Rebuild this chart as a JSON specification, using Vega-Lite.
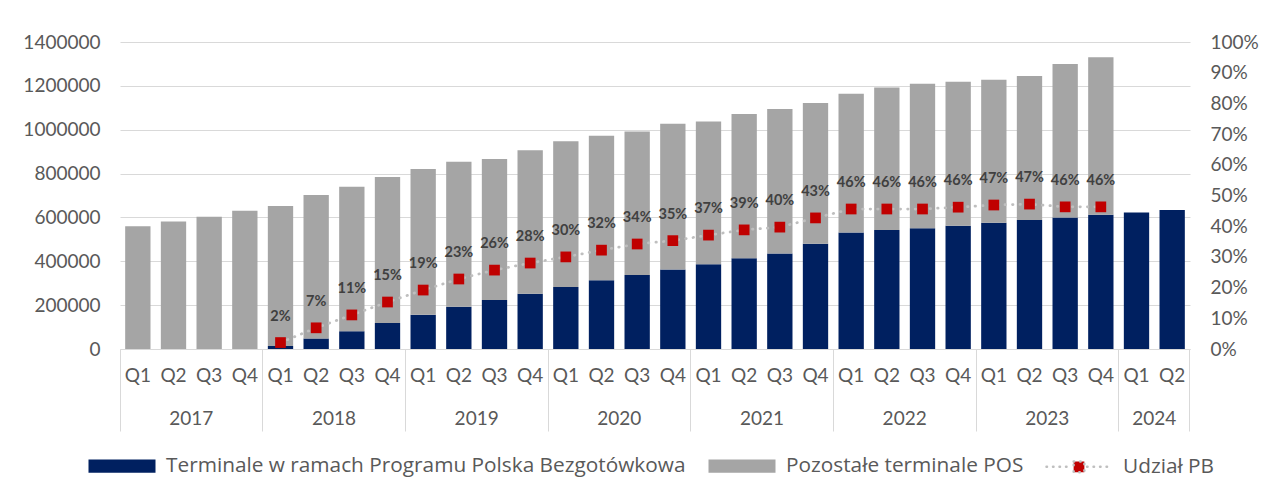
{
  "$schema": "https://vega.github.io/schema/vega-lite/v6.json",
  "autosize": {"type": "none"},
  "width": 1070,
  "height": 307,
  "padding": {"left": 120, "top": 42, "right": 82, "bottom": 152},
  "background": "#ffffff",
  "config": {
    "view": {"stroke": null},
    "font": "Lato",
    "axis": {"labelFont": "Lato", "labelColor": "#595959", "labelFontSize": 19}
  },
  "datasets": {
    "bars": [
      {"period": "2017 Q1", "series": "Pozostałe terminale POS", "value": 560000},
      {"period": "2017 Q2", "series": "Pozostałe terminale POS", "value": 582000},
      {"period": "2017 Q3", "series": "Pozostałe terminale POS", "value": 603000},
      {"period": "2017 Q4", "series": "Pozostałe terminale POS", "value": 630000},
      {"period": "2018 Q1", "series": "Terminale w ramach Programu Polska Bezgotówkowa", "value": 14000},
      {"period": "2018 Q1", "series": "Pozostałe terminale POS", "value": 638000},
      {"period": "2018 Q2", "series": "Terminale w ramach Programu Polska Bezgotówkowa", "value": 48000},
      {"period": "2018 Q2", "series": "Pozostałe terminale POS", "value": 654000},
      {"period": "2018 Q3", "series": "Terminale w ramach Programu Polska Bezgotówkowa", "value": 81000},
      {"period": "2018 Q3", "series": "Pozostałe terminale POS", "value": 659000},
      {"period": "2018 Q4", "series": "Terminale w ramach Programu Polska Bezgotówkowa", "value": 118000},
      {"period": "2018 Q4", "series": "Pozostałe terminale POS", "value": 666000},
      {"period": "2019 Q1", "series": "Terminale w ramach Programu Polska Bezgotówkowa", "value": 156000},
      {"period": "2019 Q1", "series": "Pozostałe terminale POS", "value": 665000},
      {"period": "2019 Q2", "series": "Terminale w ramach Programu Polska Bezgotówkowa", "value": 193000},
      {"period": "2019 Q2", "series": "Pozostałe terminale POS", "value": 661000},
      {"period": "2019 Q3", "series": "Terminale w ramach Programu Polska Bezgotówkowa", "value": 223000},
      {"period": "2019 Q3", "series": "Pozostałe terminale POS", "value": 643000},
      {"period": "2019 Q4", "series": "Terminale w ramach Programu Polska Bezgotówkowa", "value": 252000},
      {"period": "2019 Q4", "series": "Pozostałe terminale POS", "value": 654000},
      {"period": "2020 Q1", "series": "Terminale w ramach Programu Polska Bezgotówkowa", "value": 283000},
      {"period": "2020 Q1", "series": "Pozostałe terminale POS", "value": 664000},
      {"period": "2020 Q2", "series": "Terminale w ramach Programu Polska Bezgotówkowa", "value": 313000},
      {"period": "2020 Q2", "series": "Pozostałe terminale POS", "value": 660000},
      {"period": "2020 Q3", "series": "Terminale w ramach Programu Polska Bezgotówkowa", "value": 338000},
      {"period": "2020 Q3", "series": "Pozostałe terminale POS", "value": 654000},
      {"period": "2020 Q4", "series": "Terminale w ramach Programu Polska Bezgotówkowa", "value": 362000},
      {"period": "2020 Q4", "series": "Pozostałe terminale POS", "value": 665000},
      {"period": "2021 Q1", "series": "Terminale w ramach Programu Polska Bezgotówkowa", "value": 386000},
      {"period": "2021 Q1", "series": "Pozostałe terminale POS", "value": 652000},
      {"period": "2021 Q2", "series": "Terminale w ramach Programu Polska Bezgotówkowa", "value": 414000},
      {"period": "2021 Q2", "series": "Pozostałe terminale POS", "value": 658000},
      {"period": "2021 Q3", "series": "Terminale w ramach Programu Polska Bezgotówkowa", "value": 436000},
      {"period": "2021 Q3", "series": "Pozostałe terminale POS", "value": 658000},
      {"period": "2021 Q4", "series": "Terminale w ramach Programu Polska Bezgotówkowa", "value": 480000},
      {"period": "2021 Q4", "series": "Pozostałe terminale POS", "value": 642000},
      {"period": "2022 Q1", "series": "Terminale w ramach Programu Polska Bezgotówkowa", "value": 531000},
      {"period": "2022 Q1", "series": "Pozostałe terminale POS", "value": 633000},
      {"period": "2022 Q2", "series": "Terminale w ramach Programu Polska Bezgotówkowa", "value": 543000},
      {"period": "2022 Q2", "series": "Pozostałe terminale POS", "value": 650000},
      {"period": "2022 Q3", "series": "Terminale w ramach Programu Polska Bezgotówkowa", "value": 551000},
      {"period": "2022 Q3", "series": "Pozostałe terminale POS", "value": 659000},
      {"period": "2022 Q4", "series": "Terminale w ramach Programu Polska Bezgotówkowa", "value": 562000},
      {"period": "2022 Q4", "series": "Pozostałe terminale POS", "value": 657000},
      {"period": "2023 Q1", "series": "Terminale w ramach Programu Polska Bezgotówkowa", "value": 576000},
      {"period": "2023 Q1", "series": "Pozostałe terminale POS", "value": 652000},
      {"period": "2023 Q2", "series": "Terminale w ramach Programu Polska Bezgotówkowa", "value": 588000},
      {"period": "2023 Q2", "series": "Pozostałe terminale POS", "value": 657000},
      {"period": "2023 Q3", "series": "Terminale w ramach Programu Polska Bezgotówkowa", "value": 600000},
      {"period": "2023 Q3", "series": "Pozostałe terminale POS", "value": 700000},
      {"period": "2023 Q4", "series": "Terminale w ramach Programu Polska Bezgotówkowa", "value": 612000},
      {"period": "2023 Q4", "series": "Pozostałe terminale POS", "value": 718000},
      {"period": "2024 Q1", "series": "Terminale w ramach Programu Polska Bezgotówkowa", "value": 623000},
      {"period": "2024 Q2", "series": "Terminale w ramach Programu Polska Bezgotówkowa", "value": 634000}
    ],
    "shares": [
      {"period": "2018 Q1", "share": 0.021},
      {"period": "2018 Q2", "share": 0.069},
      {"period": "2018 Q3", "share": 0.111},
      {"period": "2018 Q4", "share": 0.153},
      {"period": "2019 Q1", "share": 0.192},
      {"period": "2019 Q2", "share": 0.228},
      {"period": "2019 Q3", "share": 0.257},
      {"period": "2019 Q4", "share": 0.280},
      {"period": "2020 Q1", "share": 0.300},
      {"period": "2020 Q2", "share": 0.322},
      {"period": "2020 Q3", "share": 0.342},
      {"period": "2020 Q4", "share": 0.353},
      {"period": "2021 Q1", "share": 0.371},
      {"period": "2021 Q2", "share": 0.388},
      {"period": "2021 Q3", "share": 0.397},
      {"period": "2021 Q4", "share": 0.427},
      {"period": "2022 Q1", "share": 0.456},
      {"period": "2022 Q2", "share": 0.456},
      {"period": "2022 Q3", "share": 0.456},
      {"period": "2022 Q4", "share": 0.462},
      {"period": "2023 Q1", "share": 0.469},
      {"period": "2023 Q2", "share": 0.472},
      {"period": "2023 Q3", "share": 0.463},
      {"period": "2023 Q4", "share": 0.463}
    ]
  },
  "layer": [
    {
      "data": {"name": "bars"},
      "mark": {"type": "bar"},
      "encoding": {
        "x": {
          "field": "period", "type": "nominal",
          "scale": {"type": "band", "paddingInner": 0.29, "paddingOuter": 0.145},
          "axis": {
            "title": null,
            "labelExpr": "substring(datum.value, 5)",
            "labelAngle": 0,
            "labelPadding": -65,
            "domainColor": "#D9D9D9",
            "domainWidth": 1,
            "tickColor": "#D9D9D9",
            "tickWidth": 1,
            "tickSize": 82,
            "bandPosition": -0.2042,
            "tickOpacity": {"condition": {"test": "substring(datum.value, 5) == 'Q1'", "value": 1}, "value": 0}
          }
        },
        "y": {
          "field": "value", "type": "quantitative", "stack": "zero",
          "scale": {"domain": [0, 1400000], "nice": false},
          "axis": {
            "title": null,
            "values": [0, 200000, 400000, 600000, 800000, 1000000, 1200000, 1400000],
            "format": "d",
            "domain": false,
            "ticks": false,
            "gridColor": "#D9D9D9",
            "gridWidth": 1,
            "labelPadding": 20
          }
        },
        "color": {
          "field": "series", "type": "nominal",
          "scale": {
            "domain": ["Terminale w ramach Programu Polska Bezgotówkowa", "Pozostałe terminale POS", "Udział PB"],
            "range": ["#002060", "#A5A5A5", "#C00000"]
          },
          "legend": {
            "orient": "none",
            "legendX": -33,
            "legendY": 389,
            "direction": "horizontal",
            "columns": 3,
            "title": null,
            "symbolSize": 4489,
            "labelFont": "Open Sans",
            "labelFontSize": 20.8,
            "labelColor": "#595959",
            "labelLimit": 1000,
            "labelOffset": 9,
            "columnPadding": 17,
            "encode": {
              "symbols": {
                "update": {
                  "shape": {"signal": "datum.value == 'Udział PB' ? 'M-0.97,0H-0.24M0.24,0H0.97M-0.16,-0.16H0.16V0.16H-0.16Z' : 'M-1,-0.2H1V0.2H-1Z'"},
                  "stroke": {"signal": "datum.value == 'Udział PB' ? '#BFBFBF' : 'transparent'"},
                  "strokeWidth": {"value": 2.5},
                  "strokeDash": {"signal": "datum.value == 'Udział PB' ? [0.5, 6] : [1, 0]"},
                  "strokeCap": {"value": "round"},
                  "opacity": {"value": 1}
                }
              }
            }
          }
        },
        "order": {"field": "series", "sort": "descending"}
      }
    },
    {
      "data": {"name": "shares"},
      "encoding": {
        "x": {
          "field": "period", "type": "nominal",
          "axis": {
            "orient": "bottom",
            "title": null,
            "labelExpr": "((substring(datum.value, 5) == 'Q2' && substring(datum.value, 0, 4) != '2024') || datum.value == '2024 Q1') ? substring(datum.value, 0, 4) : ''",
            "labelAngle": 0,
            "labelOffset": 17.83,
            "labelPadding": -22,
            "domain": false,
            "grid": false,
            "tickColor": "#D9D9D9",
            "tickWidth": 1,
            "tickSize": 82,
            "bandPosition": 1.2042,
            "tickOpacity": {"condition": {"test": "datum.value == '2024 Q2'", "value": 1}, "value": 0}
          }
        },
        "y": {
          "field": "share", "type": "quantitative",
          "scale": {"domain": [0, 1], "nice": false},
          "axis": {
            "orient": "right",
            "title": null,
            "values": [0, 0.1, 0.2, 0.3, 0.4, 0.5, 0.6, 0.7, 0.8, 0.9, 1],
            "format": ".0%",
            "domain": false,
            "ticks": false,
            "grid": false,
            "labelPadding": 20
          }
        }
      },
      "layer": [
        {
          "mark": {"type": "line", "color": "#BFBFBF", "strokeWidth": 2.75, "strokeDash": [0.5, 7], "strokeCap": "round"}
        },
        {
          "mark": {"type": "point", "shape": "square", "filled": true, "size": 115, "opacity": 1},
          "encoding": {"color": {"datum": "Udział PB"}}
        },
        {
          "mark": {"type": "text", "dy": -26, "font": "Lato", "fontSize": 14.5, "fontWeight": "bold", "color": "#404040"},
          "encoding": {"text": {"field": "share", "type": "quantitative", "format": ".0%"}}
        }
      ]
    }
  ],
  "resolve": {"scale": {"y": "independent"}, "axis": {"x": "independent", "y": "independent"}}
}
